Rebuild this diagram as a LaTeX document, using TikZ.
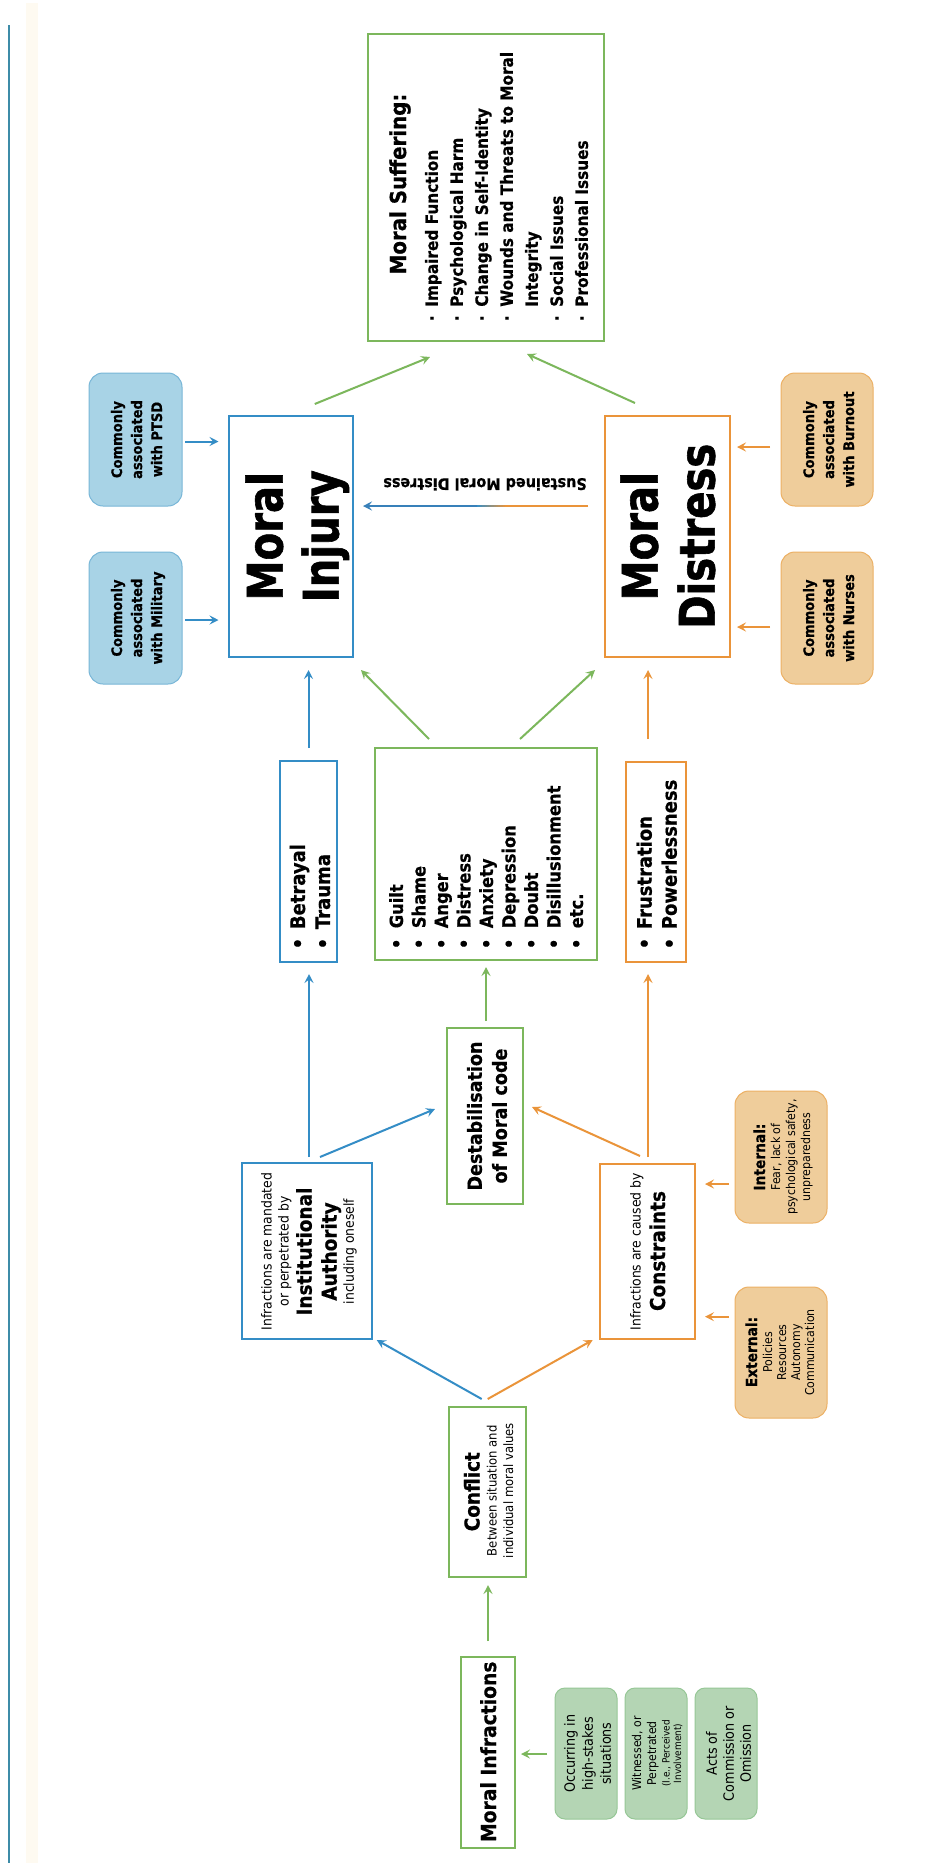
\documentclass[tikz,border=0pt]{standalone}
\usepackage{fontspec}
\setmainfont{DejaVu Sans}[FakeStretch=0.9, BoldFeatures={FakeBold=0.6}]
\newfontfamily\titlefont{DejaVu Sans}[FakeStretch=0.82, BoldFeatures={FakeBold=1.2}]
\usetikzlibrary{arrows.meta,calc}
\definecolor{cblue}{RGB}{52,141,198}
\definecolor{dblue}{RGB}{60,112,168}
\definecolor{corange}{RGB}{234,148,58}
\definecolor{cgreen}{RGB}{124,183,92}
\definecolor{fblue}{RGB}{168,211,230}
\definecolor{bblue}{RGB}{120,182,215}
\definecolor{forange}{RGB}{239,205,155}
\definecolor{borange}{RGB}{236,176,100}
\definecolor{fgreen}{RGB}{180,213,180}
\definecolor{bgreen}{RGB}{150,199,150}
\definecolor{cteal}{RGB}{62,140,168}
\definecolor{cream}{RGB}{254,250,241}
\tikzset{
  box/.style={draw=#1, line width=2pt, inner sep=0pt, outer sep=0pt, fill=white},
  blob/.style={rounded corners=14pt, line width=1pt, inner sep=0pt, outer sep=0pt},
  blobB/.style={blob, fill=fblue, draw=bblue},
  blobO/.style={blob, fill=forange, draw=borange},
  blobG/.style={blob, rounded corners=10pt, fill=fgreen, draw=bgreen},
  vt/.style={rotate=90, inner sep=0pt, outer sep=0pt},
  arr/.style={line width=2pt, -{Stealth[length=9pt,width=9pt,inset=3.5pt]}},
  fB/.style={font=\bfseries\fontsize{#1}{#1}\selectfont},
  fR/.style={font=\fontsize{#1}{#1}\selectfont},
}
\begin{document}
\begin{tikzpicture}[x=1pt,y=-1pt]
\useasboundingbox (0,0) rectangle (929,1863);
\fill[white] (0,0) rectangle (929,1863);
\fill[cream] (26,3) rectangle (38,1863);
\draw[cteal, line width=2pt] (9,25) -- (9,1863);

% ---------- boxes ----------
\node[box=cgreen, minimum width=236pt, minimum height=307pt] (ms) at (485.5,187) {};
\node[box=cblue, minimum width=124.5pt, minimum height=240.5pt] (mi) at (290.75,536.25) {};
\node[box=corange, minimum width=125pt, minimum height=240.5pt] (md) at (667.5,536.25) {};
\node[blobB, minimum width=93pt, minimum height=133pt] (ptsd) at (135.5,439.5) {};
\node[blobB, minimum width=93pt, minimum height=132pt] (mil) at (135.5,618) {};
\node[blobO, minimum width=92pt, minimum height=133pt] (burn) at (827,439.5) {};
\node[blobO, minimum width=92pt, minimum height=132pt] (nurse) at (827,618) {};
\node[box=cblue, minimum width=57pt, minimum height=201pt] (betr) at (308.5,861.5) {};
\node[box=cgreen, minimum width=222pt, minimum height=212pt] (emo) at (486,854) {};
\node[box=corange, minimum width=60pt, minimum height=200pt] (frus) at (656,862) {};
\node[box=cgreen, minimum width=76pt, minimum height=176pt] (destab) at (485,1116) {};
\node[box=cblue, minimum width=130pt, minimum height=176pt] (inst) at (307,1251) {};
\node[box=corange, minimum width=95pt, minimum height=175pt] (cons) at (647.5,1251.5) {};
\node[blobO, minimum width=92pt, minimum height=132pt] (intl) at (781,1157) {};
\node[blobO, minimum width=92pt, minimum height=131pt] (extl) at (781,1352.5) {};
\node[box=cgreen, minimum width=77pt, minimum height=170pt] (conf) at (487.5,1492) {};
\node[box=cgreen, minimum width=54pt, minimum height=191pt] (infr) at (488,1752.5) {};
\node[blobG, minimum width=62pt, minimum height=131pt] (g1) at (586,1753.5) {};
\node[blobG, minimum width=62pt, minimum height=131pt] (g2) at (656,1753.5) {};
\node[blobG, minimum width=62pt, minimum height=131pt] (g3) at (726,1753.5) {};

% ---------- texts ----------
\node[vt, align=center, font=\titlefont\bfseries\fontsize{49}{56}\selectfont] (mi-t) at ($(mi.center)+(6.5,0)$) {Moral\\Injury};
\node[vt, align=center, font=\titlefont\bfseries\fontsize{49}{57}\selectfont] (md-t) at ($(md.center)+(0.4,0)$) {Moral\\Distress};

\node[vt, anchor=base, fB=22] (ms-t) at ($(ms.center)+(-79.5,-3)$) {Moral Suffering:};
\node[vt, anchor=north west, align=left, font=\bfseries\fontsize{17}{25}\selectfont] (ms-l) at (425,321.2)
 {·\hspace{8.7pt}Impaired Function\\
  ·\hspace{8.7pt}Psychological Harm\\
  ·\hspace{8.7pt}Change in Self-Identity\\
  ·\hspace{8.7pt}Wounds and Threats to Moral\\
  \hphantom{·}\hspace{8.7pt}Integrity\\
  ·\hspace{8.7pt}Social Issues\\
  ·\hspace{8.7pt}Professional Issues};

\node[vt, anchor=north, align=center, font=\bfseries\fontsize{14.5}{20}\selectfont] (ptsd-t) at ($(ptsd.west)+(22,0)$) {Commonly\\associated\\with PTSD};
\node[vt, anchor=north, align=center, font=\bfseries\fontsize{14.5}{20}\selectfont] (mil-t) at ($(mil.west)+(22,0)$) {Commonly\\associated\\with Military};
\node[vt, anchor=north, align=center, font=\bfseries\fontsize{14.5}{20}\selectfont] (burn-t) at ($(burn.west)+(22,0)$) {Commonly\\associated\\with Burnout};
\node[vt, anchor=north, align=center, font=\bfseries\fontsize{14.5}{20}\selectfont] (nurse-t) at ($(nurse.west)+(22,0)$) {Commonly\\associated\\with Nurses};

\node[rotate=180, anchor=base, inner sep=0pt, fB=16] (sust-t) at (485,478.3) {Sustained Moral Distress};

\node[vt, anchor=north west, align=left, font=\bfseries\fontsize{20}{25}\selectfont] (betr-t) at (289.8,949.3)
 {•\hspace{8.7pt}Betrayal\\•\hspace{8.7pt}Trauma};
\node[vt, anchor=north west, align=left, font=\bfseries\fontsize{18.1}{22.5}\selectfont] (emo-t) at (389.2,949)
 {•\hspace{10.4pt}Guilt\\•\hspace{10.4pt}Shame\\•\hspace{10.4pt}Anger\\•\hspace{10.4pt}Distress\\•\hspace{10.4pt}Anxiety\\•\hspace{10.4pt}Depression\\•\hspace{10.4pt}Doubt\\•\hspace{10.4pt}Disillusionment\\•\hspace{10.4pt}etc.};
\node[vt, anchor=north west, align=left, font=\bfseries\fontsize{20}{25}\selectfont] (frus-t) at (636.5,949.3)
 {•\hspace{8.7pt}Frustration\\•\hspace{8.7pt}Powerlessness};

\node[vt, anchor=north, align=center, font=\bfseries\fontsize{19.5}{25}\selectfont] (destab-t) at ($(destab.west)+(20,0)$) {Destabilisation\\of Moral code};

\node[vt, anchor=base, fR=13.8] (inst-1) at (271.7,1251.5) {Infractions are mandated};
\node[vt, anchor=base, fR=13.8] (inst-2) at (288.5,1251.5) {or perpetrated by};
\node[vt, anchor=base, fB=20.5] (inst-3) at (311.7,1251.5) {Institutional};
\node[vt, anchor=base, fB=20.5] (inst-4) at (336.7,1251.5) {Authority};
\node[vt, anchor=base, fR=13.8] (inst-5) at (353.8,1251.5) {including oneself};

\node[vt, anchor=base, fR=13.8] (cons-1) at (640.5,1251.7) {Infractions are caused by};
\node[vt, anchor=base, fB=20.5] (cons-2) at (665,1251) {Constraints};

\node[vt, anchor=base, fB=15.3] (intl-1) at (765,1157) {Internal:};
\node[vt, anchor=base, fR=12.2] (intl-2) at (780,1157) {Fear, lack of};
\node[vt, anchor=base, fR=12.2] (intl-3) at (795,1157) {psychological safety,};
\node[vt, anchor=base, fR=12.2] (intl-4) at (810,1157) {unpreparedness};

\node[vt, anchor=base, fB=15.3] (extl-1) at (757,1352) {External:};
\node[vt, anchor=base, fR=12.2] (extl-2) at (772,1352.5) {Policies};
\node[vt, anchor=base, fR=12.2] (extl-3) at (786,1352.5) {Resources};
\node[vt, anchor=base, fR=12.2] (extl-4) at (800,1352.5) {Autonomy};
\node[vt, anchor=base, fR=12.2] (extl-5) at (814,1352.5) {Communication};

\node[vt, anchor=base, fB=20.5] (conf-1) at (479.5,1491.7) {Conflict};
\node[vt, anchor=base, fR=12.9] (conf-2) at (496.5,1490.8) {Between situation and};
\node[vt, anchor=base, fR=12.9] (conf-3) at (513.1,1490.5) {individual moral values};

\node[vt, anchor=base, fB=20.8] (infr-t) at (496,1751.7) {Moral Infractions};

\node[vt, anchor=north, align=center, font=\fontsize{14.2}{18}\selectfont] (g1-t) at ($(g1.west)+(9.2,0)$) {Occurring in\\high-stakes\\situations};
\node[vt, anchor=base, fR=12.1] (g2-1) at (641,1753.5) {Witnessed, or};
\node[vt, anchor=base, fR=12.1] (g2-2) at (656,1753.5) {Perpetrated};
\node[vt, anchor=base, fR=10] (g2-3) at (669.5,1753.5) {(I.e., Perceived};
\node[vt, anchor=base, fR=10] (g2-4) at (681,1753.5) {Involvement)};
\node[vt, anchor=north, align=center, font=\fontsize{14.2}{17}\selectfont] (g3-t) at ($(g3.west)+(11,0)$) {Acts of\\Commission or\\Omission};

% ---------- connectors ----------
\draw[arr, cblue] ($(ptsd.east)+(3,2)$) -- ($(ptsd.east -| mi.west)+(-10,2)$);
\draw[arr, cblue] ($(mil.east)+(3,2)$) -- ($(mil.east -| mi.west)+(-10,2)$);
\draw[arr, corange] ($(burn.west)+(-11,7.5)$) -- ($(burn.west -| md.east)+(7,7.5)$);
\draw[arr, corange] ($(nurse.west)+(-11,9)$) -- ($(nurse.west -| md.east)+(7,9)$);
\draw[arr, cgreen] ($(mi.north)+(24,-12)$) -- ($(ms.south)+(-55.5,16.5)$);
\draw[arr, cgreen] ($(md.north)+(-32.5,-13)$) -- ($(ms.south)+(41.5,13.5)$);
\draw[arr, cblue] ($(betr.north)+(0,-13)$) -- ($(betr.north |- mi.south)+(0,13.5)$);
\draw[arr, cgreen] ($(emo.north)+(-57,-9)$) -- ($(mi.south)+(70.25,13.5)$);
\draw[arr, cgreen] ($(emo.north)+(34,-9)$) -- ($(md.south)+(-72.5,13.5)$);
\draw[arr, corange] ($(frus.north)+(-8,-23)$) -- ($(md.south)+(-19.5,13.5)$);
\draw[arr, cblue] ($(inst.north)+(2,-6)$) -- ($(betr.south)+(0.5,12)$);
\draw[arr, cblue] ($(inst.north)+(13,-6)$) -- ($(destab.west)+(-12,-7)$);
\draw[arr, cgreen] ($(destab.north)+(1,-7)$) -- ($(emo.south)+(0,7)$);
\draw[arr, corange] ($(cons.north)+(0.5,-7)$) -- ($(frus.south)+(-8,12)$);
\draw[arr, corange] ($(cons.north)+(-7.5,-8)$) -- ($(destab.east)+(9,-9)$);
\draw[arr, cblue] ($(conf.north)+(-5.8,-8)$) -- ($(inst.south)+(69.7,1)$);
\draw[arr, corange] ($(conf.north)+(0.2,-8)$) -- ($(cons.south)+(-54.8,1)$);
\draw[arr, corange] ($(intl.west)+(-6,27)$) -- ($(intl.west -| cons.east)+(10,27)$);
\draw[arr, corange] ($(extl.west)+(-6,-35.8)$) -- ($(extl.west -| cons.east)+(10,-35.8)$);
\draw[arr, cgreen] ($(infr.north)+(0,-16)$) -- ($(conf.south)+(0.5,8)$);
\draw[arr, cgreen] ($(g1.west)+(-8,0.5)$) -- ($(infr.east)+(6,1.5)$);

% sustained moral distress: orange fading into blue
\coordinate (sust-s) at ($(md.west)+(-17,-30.25)$);
\coordinate (sust-e) at ($(mi.east)+(10,-30.25)$);
\draw[corange, line width=2pt] (sust-s) -- ($(sust-s)!0.365!(sust-e)$);
\foreach \i in {0,...,13} {
  \pgfmathsetmacro\ta{0.36+\i*0.01}
  \pgfmathsetmacro\tb{0.375+\i*0.01}
  \pgfmathtruncatemacro\pc{100-\i*100/13}
  \draw[line width=2pt, corange!\pc!cblue] ($(sust-s)!\ta!(sust-e)$) -- ($(sust-s)!\tb!(sust-e)$);
}
\draw[cblue!55!dblue, line width=2pt, -{Stealth[length=9pt,width=9pt,inset=3.5pt]}] ($(sust-s)!0.495!(sust-e)$) -- (sust-e);
\end{tikzpicture}
\end{document}
